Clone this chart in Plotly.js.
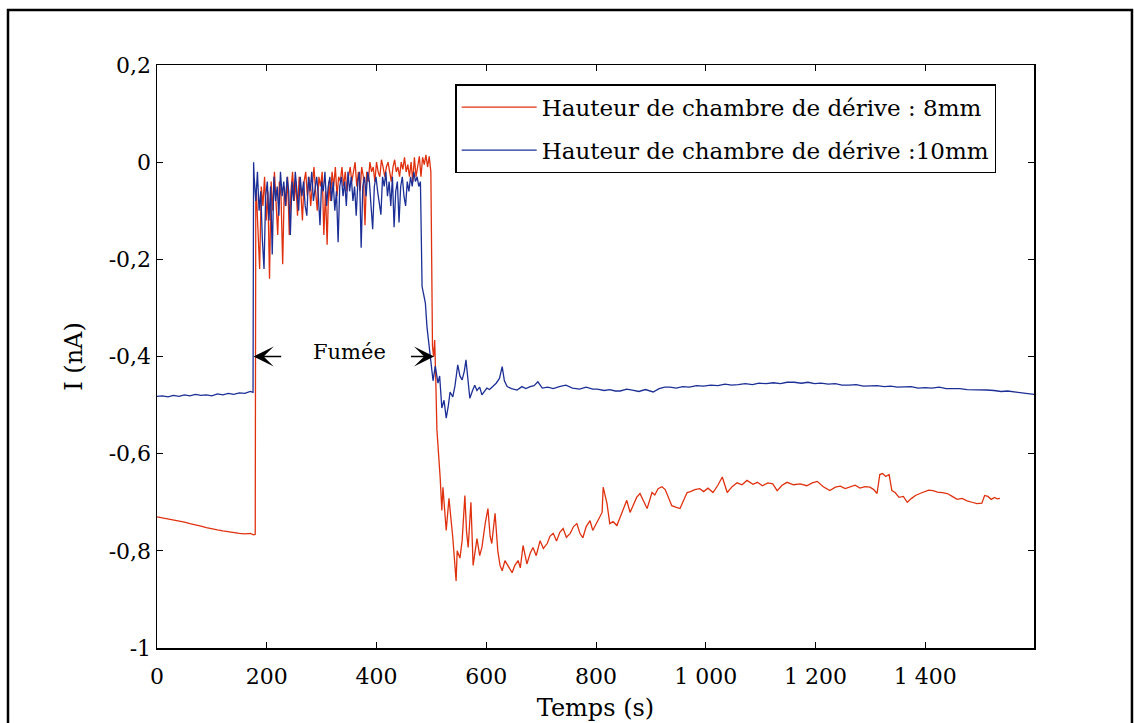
<!DOCTYPE html>
<html>
<head>
<meta charset="utf-8">
<script src="https://cdn.plot.ly/plotly-3.0.1.min.js"></script>
<style>html,body{margin:0;padding:0;background:#fff;}#chart{width:1134px;height:723px;}</style>
</head>
<body>
<div id="chart"></div>
<script>
// ---- Data ----
const seriesNames = ['Hauteur de chambre de dérive : 8mm', 'Hauteur de chambre de dérive :10mm'];

// 8 mm series (red)
const redTime = [
  0,10,20,30,40,50,60,70,80,90,100,110,120,130,140,150,160,170,176,179,180,
  181,184,187,190,193,196,199,202,205,208,211,214,217,220,223,226,229,232,235,238,
  241,244,247,250,253,256,259,262,265,268,271,274,277,280,283,286,289,292,295,298,
  301,304,307,310,313,316,319,322,325,328,331,334,337,340,343,346,349,352,355,358,
  361,364,367,370,373,376,379,382,385,388,391,394,397,400,403,406,409,412,415,418,
  421,424,427,430,433,436,439,442,445,448,451,454,457,460,463,466,469,472,475,478,
  481,484,487,490,493,496,499,
  502,504,506,508,510,516,519,521,527,532,539,545,547,552,556,561,564,567,572,576,
  580,583,588,592,598,603,607,610,616,621,625,629,634,638,643,647,652,658,662,667,
  674,680,685,691,698,704,711,716,722,728,734,740,746,753,759,765,771,776,782,789,
  794,800,806,811,813,820,825,831,838,844,850,856,862,868,874,880,887,893,902,907,
  913,920,926,932,938,945,953,960,966,972,980,989,996,1004,1013,1022,1030,1039,1048,1057,
  1066,1075,1086,1094,1103,1113,1122,1130,1139,1148,1160,1172,1184,1194,1203,1214,1226,1236,1245,1254,
  1263,1272,1281,1290,1299,1306,1312,1317,1322,1328,1334,1339,1345,1352,1360,1367,1375,1382,1390,1398,
  1406,1414,1422,1431,1440,1449,1458,1467,1476,1485,1494,1503,1508,1514,1520,1526,1531,1536
];
const redCurrent = [
  -0.730,-0.732,-0.734,-0.737,-0.739,-0.741,-0.744,-0.746,-0.749,-0.752,-0.755,-0.757,-0.759,-0.761,-0.762,-0.764,-0.765,-0.764,-0.767,-0.766,-0.06,
  -0.06,-0.14,-0.22,-0.05,-0.09,-0.03,-0.12,-0.06,-0.24,-0.04,-0.10,-0.02,-0.08,-0.15,-0.04,-0.07,-0.21,-0.05,-0.09,-0.03,
  -0.15,-0.06,-0.02,-0.08,-0.04,-0.11,-0.03,-0.06,-0.12,-0.04,-0.02,-0.07,-0.03,-0.09,-0.05,-0.01,-0.06,-0.10,-0.03,-0.05,
  -0.02,-0.15,-0.06,-0.17,-0.04,-0.08,-0.02,-0.05,-0.01,-0.07,-0.03,-0.04,-0.01,-0.05,-0.02,-0.06,-0.03,-0.01,-0.04,-0.02,
  0.00,-0.05,-0.02,-0.06,-0.01,-0.03,-0.13,-0.02,-0.04,0.00,-0.02,-0.01,-0.04,0.00,-0.02,-0.03,0.005,-0.01,-0.03,-0.01,
  0.00,-0.02,-0.04,-0.01,0.005,-0.02,-0.01,-0.03,0.00,-0.015,0.01,-0.02,-0.005,-0.03,0.00,-0.04,0.01,-0.03,-0.01,0.012,
  -0.03,0.01,-0.005,0.015,-0.01,0.012,-0.02,
  -0.38,-0.40,-0.366,-0.45,-0.55,-0.65,-0.717,-0.669,-0.758,-0.692,-0.773,-0.862,-0.80,-0.815,-0.779,-0.686,-0.76,-0.793,-0.70,-0.83,
  -0.80,-0.775,-0.81,-0.793,-0.744,-0.713,-0.77,-0.785,-0.723,-0.80,-0.83,-0.841,-0.82,-0.827,-0.838,-0.845,-0.83,-0.82,-0.835,-0.789,
  -0.827,-0.805,-0.793,-0.81,-0.779,-0.795,-0.785,-0.77,-0.764,-0.78,-0.762,-0.754,-0.772,-0.764,-0.75,-0.744,-0.765,-0.773,-0.75,-0.738,
  -0.758,-0.745,-0.73,-0.721,-0.669,-0.703,-0.744,-0.74,-0.748,-0.731,-0.715,-0.696,-0.721,-0.705,-0.69,-0.682,-0.70,-0.713,-0.68,-0.685,
  -0.672,-0.668,-0.674,-0.69,-0.707,-0.71,-0.713,-0.695,-0.68,-0.678,-0.674,-0.672,-0.678,-0.671,-0.68,-0.665,-0.648,-0.68,-0.668,-0.66,
  -0.664,-0.655,-0.663,-0.659,-0.666,-0.66,-0.662,-0.676,-0.665,-0.659,-0.664,-0.662,-0.666,-0.66,-0.657,-0.668,-0.676,-0.669,-0.667,-0.672,
  -0.669,-0.665,-0.671,-0.668,-0.669,-0.674,-0.682,-0.643,-0.641,-0.647,-0.643,-0.676,-0.68,-0.69,-0.688,-0.70,-0.692,-0.686,-0.682,-0.679,
  -0.675,-0.676,-0.679,-0.68,-0.682,-0.688,-0.694,-0.692,-0.697,-0.70,-0.703,-0.702,-0.686,-0.688,-0.694,-0.69,-0.693,-0.692
];

// 10 mm series (blue)
const blueTime = [
  0,10,20,30,40,50,60,70,80,90,100,110,120,130,140,150,160,170,175,176,
  177,180,183,186,189,192,195,198,201,204,207,210,213,216,219,222,225,228,231,234,
  237,240,243,246,249,252,255,258,261,264,267,270,273,276,279,282,285,288,291,294,
  297,300,303,306,309,312,315,318,321,324,327,330,333,336,339,342,345,348,351,354,
  357,360,363,366,369,372,375,378,381,384,387,390,393,396,399,402,405,408,411,414,
  417,420,423,426,429,432,435,438,441,444,447,450,453,456,459,462,465,468,471,474,
  477,480,
  483,485,487,489,492,497,503,507,512,515,519,523,527,531,534,539,543,548,552,556,
  560,563,567,570,575,579,583,588,592,597,601,606,612,618,624,629,633,638,646,656,
  665,672,680,687,694,702,712,722,733,745,757,770,782,794,802,815,825,835,844,856,
  866,878,890,904,915,925,935,946,958,970,983,996,1009,1022,1035,1047,1059,1072,1085,1097,
  1110,1123,1136,1148,1161,1174,1186,1198,1210,1223,1236,1248,1261,1274,1287,1300,1312,1325,1337,1349,
  1361,1374,1387,1400,1412,1425,1438,1450,1463,1476,1488,1500,1512,1525,1538,1550,1563,1576,1588,1598
];
const blueCurrent = [
  -0.482,-0.481,-0.483,-0.480,-0.482,-0.479,-0.481,-0.478,-0.480,-0.479,-0.481,-0.477,-0.479,-0.476,-0.478,-0.475,-0.476,-0.472,-0.474,0.00,
  -0.03,-0.08,-0.02,-0.10,-0.06,-0.16,-0.22,-0.07,-0.04,-0.12,-0.05,-0.19,-0.03,-0.08,-0.05,-0.11,-0.02,-0.07,-0.04,-0.09,
  -0.03,-0.06,-0.15,-0.04,-0.08,-0.02,-0.06,-0.10,-0.03,-0.07,-0.04,-0.09,-0.11,-0.03,-0.06,-0.02,-0.08,-0.05,-0.03,-0.07,
  -0.13,-0.04,-0.06,-0.02,-0.09,-0.05,-0.03,-0.08,-0.04,-0.10,-0.06,-0.165,-0.05,-0.03,-0.07,-0.04,-0.09,-0.02,-0.06,-0.03,
  -0.08,-0.05,-0.11,-0.04,-0.02,-0.176,-0.05,-0.03,-0.07,-0.02,-0.04,-0.09,-0.138,-0.05,-0.03,-0.06,-0.08,-0.108,-0.03,-0.05,
  -0.02,-0.07,-0.04,-0.09,-0.03,-0.134,-0.06,-0.04,-0.124,-0.05,-0.03,-0.07,-0.09,-0.04,-0.06,-0.03,-0.05,-0.02,-0.04,-0.03,
  -0.05,-0.04,
  -0.256,-0.27,-0.283,-0.29,-0.34,-0.39,-0.45,-0.42,-0.455,-0.44,-0.506,-0.49,-0.527,-0.50,-0.473,-0.483,-0.46,-0.417,-0.44,-0.448,
  -0.43,-0.407,-0.45,-0.486,-0.47,-0.459,-0.47,-0.463,-0.479,-0.47,-0.465,-0.468,-0.462,-0.455,-0.445,-0.421,-0.45,-0.462,-0.466,-0.469,
  -0.462,-0.466,-0.462,-0.46,-0.452,-0.465,-0.463,-0.466,-0.462,-0.459,-0.465,-0.467,-0.463,-0.467,-0.467,-0.47,-0.468,-0.471,-0.471,-0.467,
  -0.469,-0.472,-0.468,-0.473,-0.466,-0.463,-0.463,-0.465,-0.462,-0.463,-0.46,-0.461,-0.459,-0.46,-0.457,-0.459,-0.458,-0.456,-0.458,-0.455,
  -0.456,-0.454,-0.456,-0.453,-0.453,-0.455,-0.453,-0.456,-0.455,-0.457,-0.456,-0.459,-0.459,-0.458,-0.461,-0.46,-0.46,-0.462,-0.461,-0.463,
  -0.463,-0.462,-0.465,-0.464,-0.465,-0.463,-0.466,-0.466,-0.466,-0.468,-0.468,-0.469,-0.469,-0.47,-0.472,-0.471,-0.473,-0.475,-0.476,-0.478
];

// Axis ticks
const xTickVals = [0, 200, 400, 600, 800, 1000, 1200, 1400];
const xTickText = ['0', '200', '400', '600', '800', '1 000', '1 200', '1 400'];
const yTickVals = [0.2, 0, -0.2, -0.4, -0.6, -0.8, -1];
const yTickText = ['0,2', '0', '-0,2', '-0,4', '-0,6', '-0,8', '-1'];

// Annotation text
const smokeLabel = 'Fumée';

// ---- Styles ----
const RED = '#e0310f';
const BLUE = '#1c2f96';
const FONT = 'DejaVu Serif, Liberation Serif, serif';

const traces = [
  {x: redTime, y: redCurrent, type: 'scatter', mode: 'lines', name: seriesNames[0],
   line: {color: RED, width: 1.3}, legendgroup: 'a'},
  {x: blueTime, y: blueCurrent, type: 'scatter', mode: 'lines', name: seriesNames[1],
   line: {color: BLUE, width: 1.3}, legendgroup: 'b'}
];

const axisCommon = {
  showline: true, linecolor: 'black', linewidth: 1.5, mirror: 'ticks',
  ticks: 'inside', ticklen: 6, tickwidth: 1, tickcolor: 'black',
  showgrid: false, zeroline: false, tickfont: {family: FONT, size: 22, color: 'black'}
};

const layout = {
  width: 1134, height: 723,
  margin: {l: 157, r: 100, t: 65, b: 75},
  paper_bgcolor: 'white', plot_bgcolor: 'white',
  font: {family: FONT, color: 'black', size: 22},
  showlegend: true,
  xaxis: Object.assign({}, axisCommon, {
    range: [0, 1598], tickmode: 'array', tickvals: xTickVals, ticktext: xTickText,
    ticklabelstandoff: 8,
    title: {text: 'Temps (s)', font: {family: FONT, size: 24, color: 'black'}, standoff: 11}
  }),
  yaxis: Object.assign({}, axisCommon, {
    range: [-1, 0.2], tickmode: 'array', tickvals: yTickVals, ticktext: yTickText,
    title: {text: 'I (nA)', font: {family: FONT, size: 24, color: 'black'}, standoff: 19}
  }),
  legend: {
    x: 0.34, y: 0.967, xanchor: 'left', yanchor: 'top',
    bgcolor: 'white', bordercolor: 'black', borderwidth: 1.5,
    font: {family: FONT, size: 23, color: 'black'},
    itemwidth: 75, tracegroupgap: 10, traceorder: 'grouped'
  },
  annotations: [
    {x: 351, y: -0.39, xref: 'x', yref: 'y', text: smokeLabel, showarrow: false,
     font: {family: FONT, size: 21, color: 'black'}},
    {x: 176, y: -0.4, ax: 229, ay: -0.4, xref: 'x', yref: 'y', axref: 'x', ayref: 'y',
     text: '', showarrow: true, arrowhead: 3, arrowsize: 2.4, arrowwidth: 1.4, arrowcolor: 'black'},
    {x: 505, y: -0.4, ax: 460, ay: -0.4, xref: 'x', yref: 'y', axref: 'x', ayref: 'y',
     text: '', showarrow: true, arrowhead: 3, arrowsize: 2.4, arrowwidth: 1.4, arrowcolor: 'black'}
  ],
  shapes: [
    {type: 'rect', xref: 'paper', yref: 'paper', x0: -0.1699, x1: 1.1117, y0: -0.14, y1: 1.0943,
     line: {color: 'black', width: 2.5}, fillcolor: 'rgba(0,0,0,0)', layer: 'below'}
  ]
};

Plotly.newPlot('chart', traces, layout, {displayModeBar: false, staticPlot: true});
</script>
</body>
</html>
